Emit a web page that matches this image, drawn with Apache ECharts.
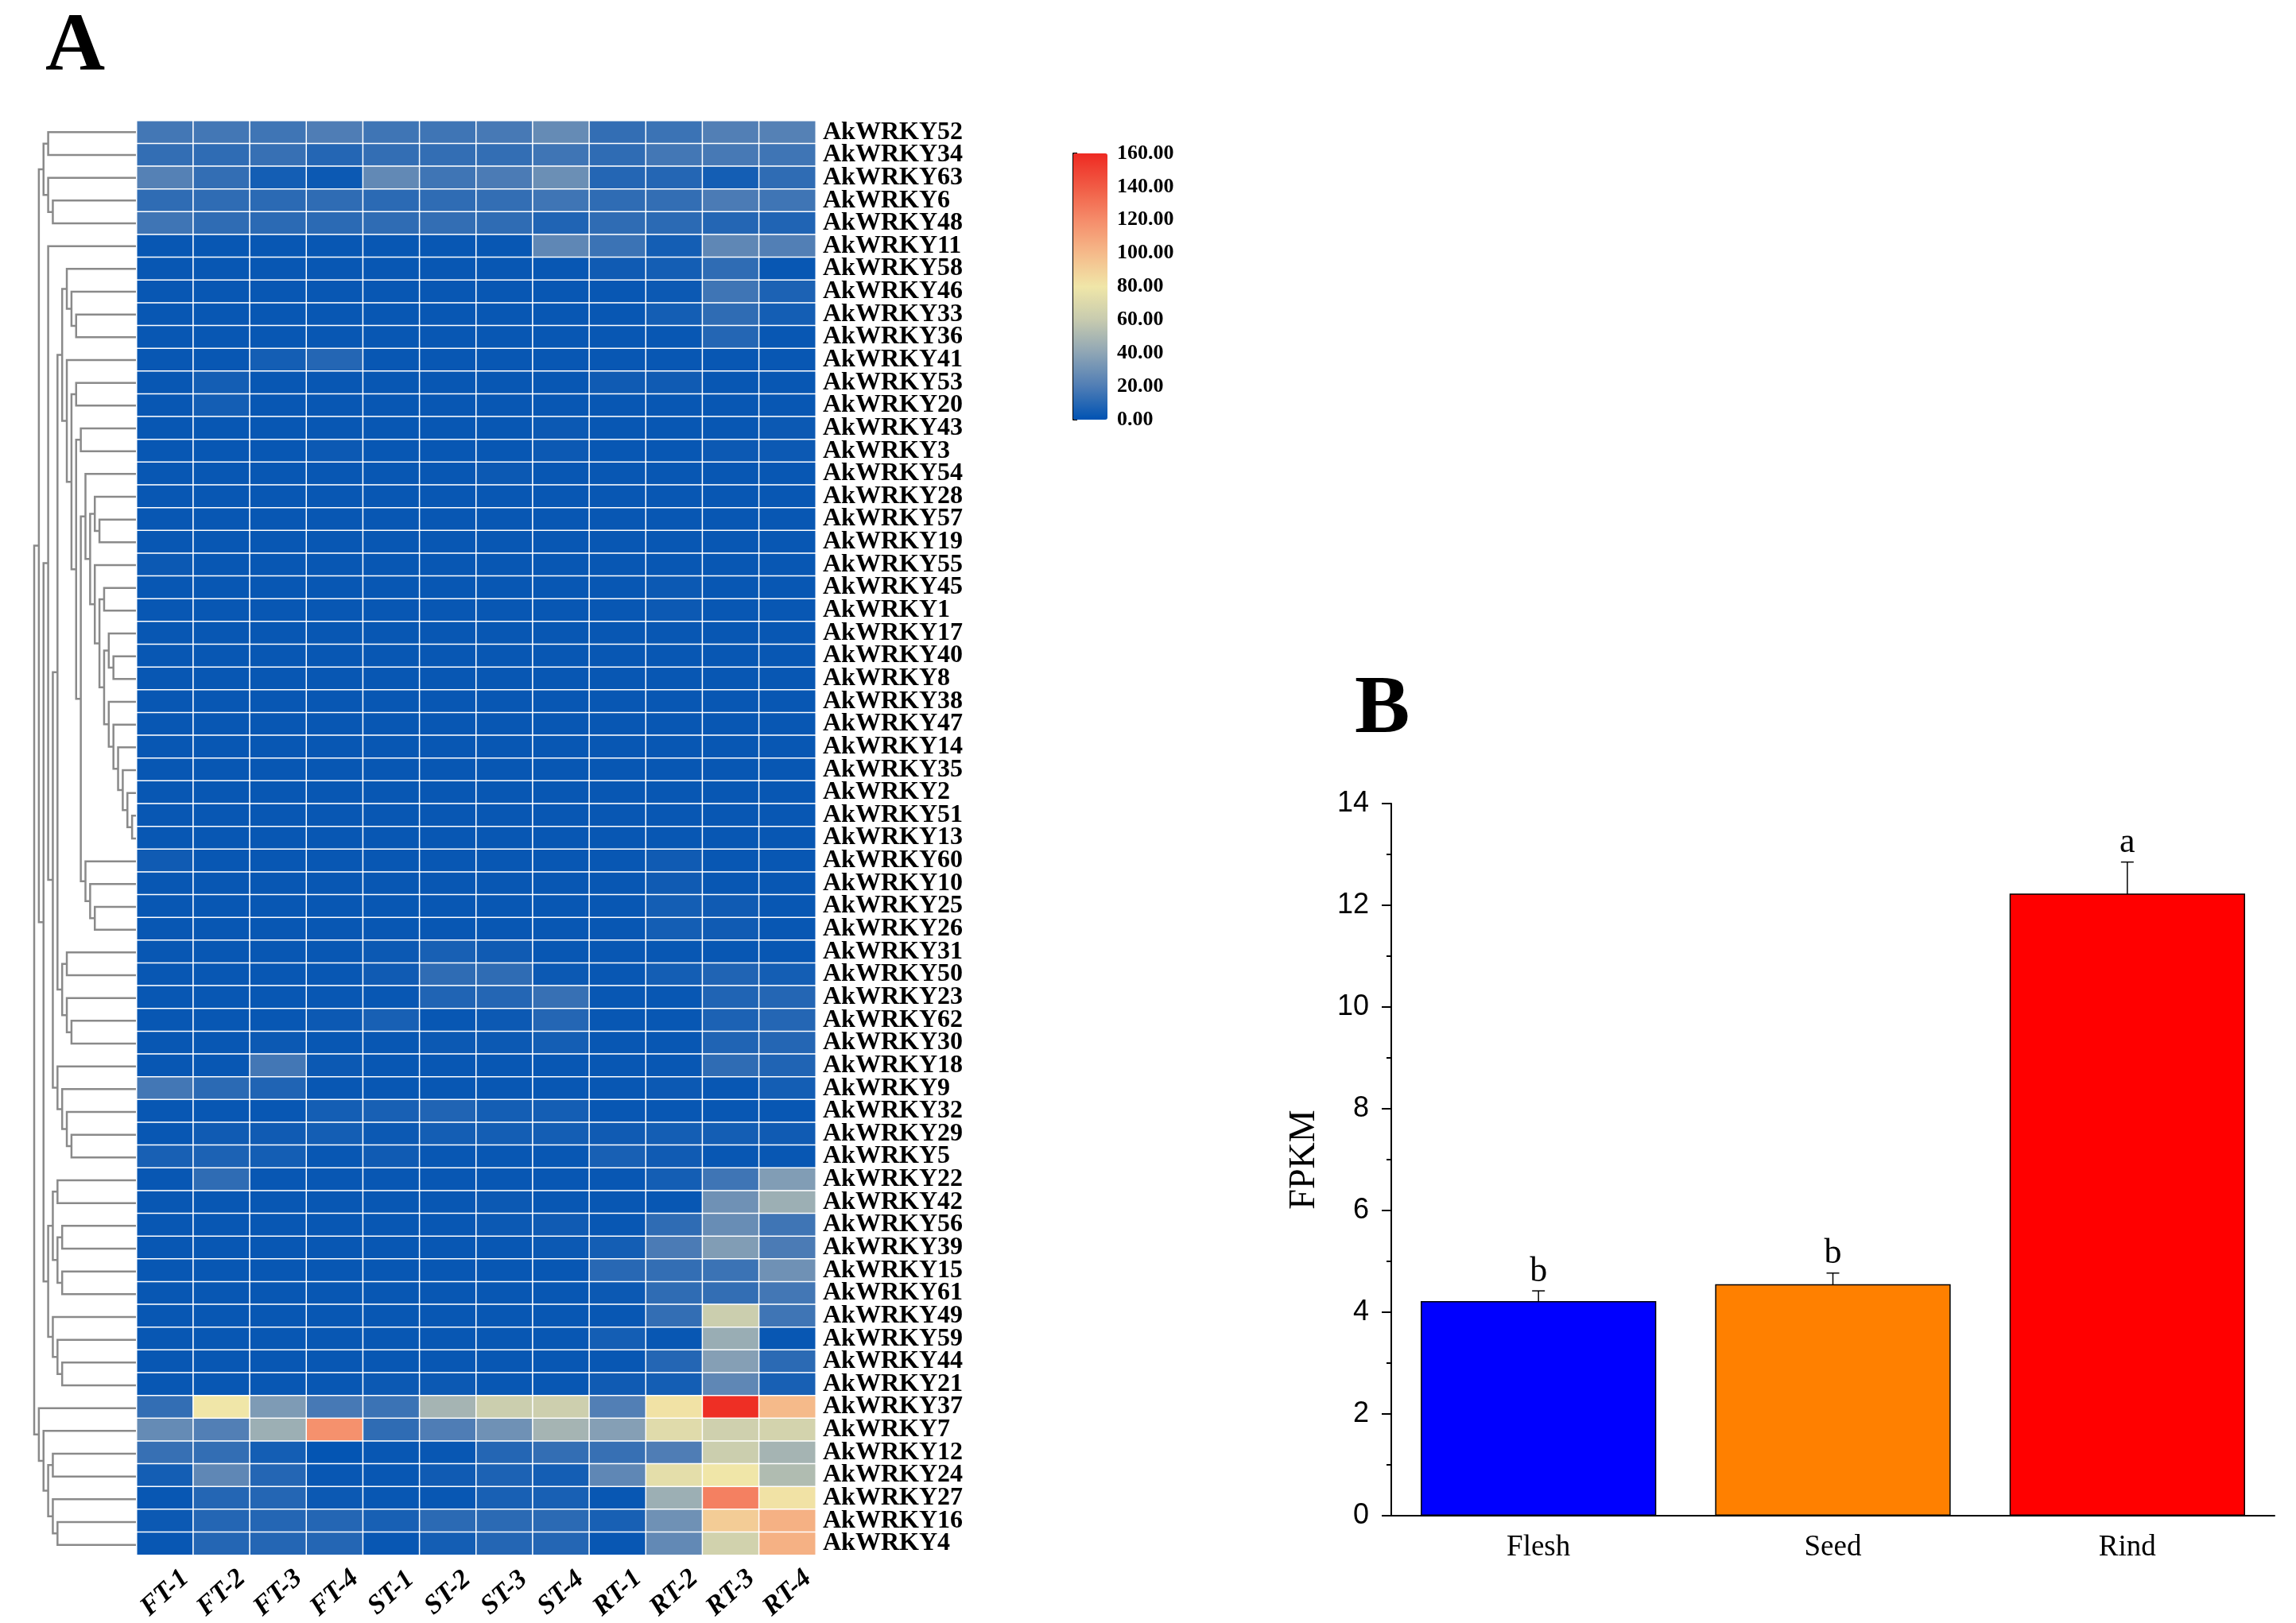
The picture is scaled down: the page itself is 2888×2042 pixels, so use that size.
<!DOCTYPE html>
<html>
<head>
<meta charset="utf-8">
<script src="https://cdn.jsdelivr.net/npm/echarts@6.0.0/dist/echarts.min.js"></script>
<style>
html, body { margin: 0; padding: 0; background: #fff; }
#main { width: 2888px; height: 2042px; }
</style>
</head>
<body>
<div id="main"></div>
<script>
// 样本（热图列）
var samples = ['FT-1', 'FT-2', 'FT-3', 'FT-4', 'ST-1', 'ST-2', 'ST-3', 'ST-4', 'RT-1', 'RT-2', 'RT-3', 'RT-4'];
// 基因（热图行，自上而下）
var genes = ['AkWRKY52', 'AkWRKY34', 'AkWRKY63', 'AkWRKY6', 'AkWRKY48', 'AkWRKY11', 'AkWRKY58', 'AkWRKY46',
    'AkWRKY33', 'AkWRKY36', 'AkWRKY41', 'AkWRKY53', 'AkWRKY20', 'AkWRKY43', 'AkWRKY3', 'AkWRKY54',
    'AkWRKY28', 'AkWRKY57', 'AkWRKY19', 'AkWRKY55', 'AkWRKY45', 'AkWRKY1', 'AkWRKY17', 'AkWRKY40',
    'AkWRKY8', 'AkWRKY38', 'AkWRKY47', 'AkWRKY14', 'AkWRKY35', 'AkWRKY2', 'AkWRKY51', 'AkWRKY13',
    'AkWRKY60', 'AkWRKY10', 'AkWRKY25', 'AkWRKY26', 'AkWRKY31', 'AkWRKY50', 'AkWRKY23', 'AkWRKY62',
    'AkWRKY30', 'AkWRKY18', 'AkWRKY9', 'AkWRKY32', 'AkWRKY29', 'AkWRKY5', 'AkWRKY22', 'AkWRKY42',
    'AkWRKY56', 'AkWRKY39', 'AkWRKY15', 'AkWRKY61', 'AkWRKY49', 'AkWRKY59', 'AkWRKY44', 'AkWRKY21',
    'AkWRKY37', 'AkWRKY7', 'AkWRKY12', 'AkWRKY24', 'AkWRKY27', 'AkWRKY16', 'AkWRKY4'];
// FPKM 表达量，每行对应一个基因
var expr = [
    [17, 17, 16, 20, 16, 16, 18, 27, 13, 15, 21, 22],
    [13, 12, 14, 9, 13, 13, 13, 16, 12, 17, 18, 16],
    [22, 13, 5, 3, 26, 16, 19, 29, 9, 9, 5, 12],
    [12, 12, 11, 12, 11, 12, 13, 16, 12, 13, 19, 16],
    [16, 12, 11, 11, 12, 13, 12, 8, 12, 11, 9, 8],
    [2, 2, 2, 2, 2, 2, 2, 25, 15, 5, 25, 21],
    [2, 2, 2, 2, 2, 2, 2, 2, 4, 5, 12, 2],
    [2, 2, 2, 2, 2, 2, 2, 2, 2, 3, 16, 7],
    [2, 2, 2, 2, 2, 2, 2, 2, 2, 5, 12, 5],
    [2, 2, 2, 2, 2, 2, 2, 2, 2, 2, 9, 2],
    [2, 2, 5, 9, 2, 2, 2, 2, 2, 2, 2, 2],
    [2, 5, 2, 2, 2, 2, 2, 2, 4, 4, 2, 2],
    [2, 5, 2, 2, 2, 2, 2, 2, 2, 2, 2, 2],
    [2, 2, 2, 2, 2, 2, 2, 3, 2, 2, 2, 3],
    [2, 2, 2, 3, 2, 2, 2, 3, 2, 2, 3, 3],
    [2, 2, 2, 2, 2, 2, 3, 2, 2, 2, 2, 2],
    [2, 2, 2, 2, 2, 2, 2, 2, 2, 2, 2, 2],
    [2, 2, 2, 2, 2, 2, 2, 2, 2, 2, 2, 2],
    [2, 2, 2, 2, 2, 2, 2, 2, 2, 2, 2, 2],
    [3, 2, 2, 2, 2, 2, 2, 2, 2, 2, 2, 2],
    [2, 2, 2, 2, 2, 2, 2, 2, 2, 3, 2, 2],
    [2, 2, 2, 2, 2, 2, 2, 2, 2, 3, 2, 2],
    [2, 2, 2, 2, 2, 2, 2, 2, 2, 2, 2, 2],
    [2, 2, 2, 2, 2, 2, 2, 2, 2, 2, 2, 2],
    [2, 2, 2, 2, 2, 2, 2, 2, 2, 2, 2, 2],
    [2, 2, 2, 2, 2, 2, 2, 2, 2, 2, 2, 2],
    [2, 2, 2, 2, 2, 2, 2, 2, 2, 2, 2, 2],
    [2, 2, 2, 2, 2, 2, 2, 2, 2, 2, 2, 2],
    [2, 2, 2, 2, 2, 2, 2, 2, 2, 2, 2, 2],
    [2, 2, 2, 2, 2, 2, 2, 2, 2, 2, 2, 2],
    [2, 2, 2, 2, 2, 2, 2, 2, 2, 2, 2, 2],
    [2, 2, 2, 2, 2, 2, 2, 2, 2, 2, 2, 2],
    [4, 2, 2, 2, 2, 2, 2, 2, 2, 4, 2, 2],
    [2, 2, 2, 2, 2, 2, 2, 2, 2, 4, 2, 2],
    [2, 2, 2, 2, 2, 2, 2, 2, 2, 5, 4, 2],
    [2, 2, 2, 2, 2, 2, 2, 2, 2, 5, 4, 2],
    [2, 2, 2, 2, 3, 6, 4, 2, 2, 2, 2, 2],
    [2, 2, 2, 2, 4, 12, 12, 3, 2, 5, 8, 5],
    [2, 2, 2, 2, 2, 8, 9, 14, 2, 2, 8, 9],
    [2, 2, 2, 3, 6, 2, 3, 9, 2, 2, 7, 9],
    [2, 2, 3, 2, 2, 3, 3, 5, 2, 2, 8, 9],
    [2, 2, 17, 3, 2, 2, 2, 2, 2, 2, 12, 8],
    [17, 11, 8, 2, 2, 2, 2, 2, 2, 3, 2, 5],
    [2, 2, 2, 5, 6, 8, 5, 5, 2, 2, 2, 2],
    [2, 4, 4, 5, 3, 5, 5, 5, 4, 5, 5, 4],
    [6, 7, 5, 2, 4, 2, 2, 2, 6, 4, 2, 2],
    [2, 12, 2, 2, 2, 2, 2, 2, 2, 5, 16, 36],
    [2, 2, 2, 2, 2, 2, 3, 2, 2, 2, 30, 45],
    [2, 2, 2, 2, 2, 2, 3, 4, 2, 12, 28, 16],
    [2, 2, 2, 2, 2, 2, 2, 3, 5, 19, 36, 19],
    [2, 2, 2, 2, 2, 2, 2, 2, 10, 13, 15, 30],
    [2, 2, 2, 2, 2, 2, 2, 2, 3, 12, 13, 17],
    [2, 2, 2, 2, 2, 2, 2, 2, 2, 13, 62, 16],
    [2, 2, 2, 2, 2, 2, 2, 2, 5, 2, 44, 2],
    [2, 2, 2, 2, 2, 2, 2, 2, 2, 9, 37, 11],
    [2, 2, 2, 2, 3, 3, 2, 2, 4, 5, 25, 6],
    [13, 80, 35, 18, 15, 48, 62, 63, 21, 82, 158, 100],
    [27, 21, 45, 118, 12, 20, 30, 48, 37, 72, 64, 66],
    [14, 13, 5, 1, 2, 2, 9, 13, 14, 20, 62, 48],
    [5, 25, 9, 2, 2, 4, 7, 5, 25, 74, 80, 52],
    [2, 9, 9, 3, 2, 2, 6, 6, 2, 45, 125, 82],
    [3, 9, 9, 9, 6, 11, 11, 11, 6, 30, 92, 104],
    [2, 9, 9, 9, 2, 5, 9, 9, 2, 26, 65, 104]
];

// 聚类树：N(合并高度, 子节点A, 子节点B)
function N(h, a, b) { return {h: h, c: [a, b]}; }
var topA = N(20, N(19, 'AkWRKY52', 'AkWRKY34'), N(19, 'AkWRKY63', N(18, 'AkWRKY6', 'AkWRKY48')));
var n30 = N(2, 'AkWRKY2', N(1, 'AkWRKY51', 'AkWRKY13'));
var n26 = N(6, 'AkWRKY38', N(5, 'AkWRKY47', N(4, 'AkWRKY14', N(3, 'AkWRKY35', n30))));
var n23 = N(6, 'AkWRKY17', N(5, 'AkWRKY40', 'AkWRKY8'));
var n21 = N(8, N(7, 'AkWRKY45', 'AkWRKY1'), N(7, n23, n26));
var n17 = N(10, N(9, 'AkWRKY28', N(8, 'AkWRKY57', 'AkWRKY19')), N(9, 'AkWRKY55', n21));
var nW = N(11, 'AkWRKY54', n17);
var nV2 = N(11, 'AkWRKY60', N(10, 'AkWRKY10', N(9, 'AkWRKY25', 'AkWRKY26')));
var nV = N(12, nW, nV2);
var nP = N(13, N(12, 'AkWRKY43', 'AkWRKY3'), nV);
var nG = N(15, 'AkWRKY41', N(14, N(13, 'AkWRKY53', 'AkWRKY20'), nP));
var nC = N(15, 'AkWRKY58', N(14, 'AkWRKY46', N(13, 'AkWRKY33', 'AkWRKY36')));
var nH = N(16, nC, nG);
var nE = N(16, N(15, 'AkWRKY31', 'AkWRKY50'), N(15, 'AkWRKY23', N(14, 'AkWRKY62', 'AkWRKY30')));
var nD = N(17, 'AkWRKY18', N(16, 'AkWRKY9', N(15, 'AkWRKY32', N(14, 'AkWRKY29', 'AkWRKY5'))));
var nR1 = N(19, 'AkWRKY11', N(18, N(17, nH, nE), nD));
var nR2a = N(18, N(17, 'AkWRKY22', 'AkWRKY42'), N(17, N(16, 'AkWRKY56', 'AkWRKY39'), N(16, 'AkWRKY15', 'AkWRKY61')));
var nR2b = N(18, 'AkWRKY49', N(17, 'AkWRKY59', N(16, 'AkWRKY44', 'AkWRKY21')));
var nBot = N(21, 'AkWRKY37', N(20, 'AkWRKY7', N(19, N(18, 'AkWRKY12', 'AkWRKY24'), N(18, 'AkWRKY27', N(17, 'AkWRKY16', 'AkWRKY4')))));
var tree = N(22, N(21, topA, N(20, nR1, N(19, nR2a, nR2b))), nBot);

// 图B：不同组织的表达量
var tissues = ['Flesh', 'Seed', 'Rind'];
var fpkm = [4.22, 4.55, 12.23];
var fpkmErr = [0.2, 0.22, 0.62];
var sigLetters = ['b', 'b', 'a'];

// 把聚类树拆成折线段
var treeLines = [];
function walk(node) {
    if (typeof node === 'string') {
        return {y: genes.indexOf(node), h: 0};
    }
    var a = walk(node.c[0]), b = walk(node.c[1]);
    treeLines.push({coords: [[a.h, a.y], [node.h, a.y], [node.h, b.y], [b.h, b.y]]});
    return {y: (a.y + b.y) / 2, h: node.h};
}
walk(tree);

var heatData = [];
expr.forEach(function (row, r) {
    row.forEach(function (v, c) {
        heatData.push([c, r, v]);
    });
});

var serif = 'Liberation Serif';
var barColors = ['#0000FF', '#FF8000', '#FF0000'];

var chart = echarts.init(document.getElementById('main'));
var option = {
    animation: false,
    backgroundColor: '#fff',
    title: [
        {text: 'A', left: 52, top: 4, textStyle: {fontSize: 104, fontWeight: 'bold', fontFamily: serif, color: '#000'}},
        {text: 'B', left: 1699, top: 837, textStyle: {fontSize: 104, fontWeight: 'bold', fontFamily: serif, color: '#000'}}
    ],
    grid: [
        {left: 43, top: 152, width: 129, height: 1806},
        {left: 172, top: 152, width: 854, height: 1806},
        {left: 1350, top: 193, width: 43, height: 335},
        {left: 1750, top: 1011, width: 1111, height: 896}
    ],
    xAxis: [
        {gridIndex: 0, type: 'value', min: 0, max: 22, inverse: true, show: false},
        {
            gridIndex: 1, type: 'category', data: samples, position: 'bottom',
            axisLine: {show: false}, axisTick: {show: false}, splitLine: {show: false},
            axisLabel: {
                rotate: 42, align: 'center', verticalAlign: 'middle', margin: 48, interval: 0,
                fontSize: 34, fontWeight: 'bold', fontStyle: 'italic', fontFamily: serif, color: '#000'
            }
        },
        {gridIndex: 2, type: 'value', show: false},
        {
            gridIndex: 3, type: 'category', data: tissues,
            axisLine: {lineStyle: {color: '#000', width: 2}},
            axisTick: {alignWithLabel: true, length: 14, lineStyle: {color: '#000', width: 2}},
            axisLabel: {margin: 22, fontSize: 37, fontFamily: serif, color: '#000'}
        },
        {
            gridIndex: 3, type: 'category', data: tissues, position: 'bottom',
            axisLine: {show: false},
            axisTick: {length: 7, lineStyle: {color: '#000', width: 2}},
            axisLabel: {show: false}
        }
    ],
    yAxis: [
        {gridIndex: 0, type: 'value', min: -0.5, max: genes.length - 0.5, inverse: true, show: false},
        {
            gridIndex: 1, type: 'category', data: genes, inverse: true, position: 'right',
            axisLine: {show: false}, axisTick: {show: false}, splitLine: {show: false},
            axisLabel: {margin: 9, interval: 0, fontSize: 32, fontWeight: 'bold', fontFamily: serif, color: '#000'}
        },
        {
            gridIndex: 2, type: 'value', min: 0, max: 160, interval: 20, position: 'right',
            axisLine: {show: true, lineStyle: {color: '#000', width: 2}},
            axisTick: {show: true, length: 5, lineStyle: {color: '#000', width: 2}},
            splitLine: {show: false},
            axisLabel: {
                margin: 12, fontSize: 26, fontWeight: 'bold', fontFamily: serif, color: '#000',
                formatter: function (v) { return v.toFixed(2); }
            }
        },
        {
            gridIndex: 3, type: 'value', min: 0, max: 14, interval: 2,
            name: 'FPKM', nameLocation: 'middle', nameRotate: 90, nameGap: 86,
            nameTextStyle: {fontSize: 46, fontFamily: serif, color: '#000'},
            axisLine: {show: true, lineStyle: {color: '#000', width: 2}},
            axisTick: {show: true, length: 12, lineStyle: {color: '#000', width: 2}},
            minorTick: {show: true, splitNumber: 2, length: 6, lineStyle: {color: '#000', width: 2}},
            splitLine: {show: false},
            axisLabel: {margin: 28, fontSize: 36, fontFamily: 'Liberation Sans', color: '#000'}
        }
    ],
    visualMap: {
        type: 'continuous', seriesIndex: 1, min: 0, max: 160,
        calculable: false, hoverLink: false, orient: 'vertical',
        left: 1350, top: 193, itemWidth: 43, itemHeight: 335, padding: 0,
        inRange: {color: ['#0053B3', '#4F7DB5', '#8EA5B5', '#C7CBAF', '#F0E6A8', '#F5BA8A', '#F58C6A', '#F15B45', '#EE2A22']}
    },
    series: [
        {
            type: 'lines', coordinateSystem: 'cartesian2d', xAxisIndex: 0, yAxisIndex: 0,
            polyline: true, silent: true,
            lineStyle: {color: '#8a8a8a', width: 2.5, opacity: 1},
            data: treeLines
        },
        {
            type: 'heatmap', xAxisIndex: 1, yAxisIndex: 1, data: heatData,
            itemStyle: {borderColor: '#fff', borderWidth: 1.5},
            emphasis: {disabled: true}
        },
        {
            type: 'bar', xAxisIndex: 3, yAxisIndex: 3, barWidth: '80%',
            data: fpkm.map(function (v, i) {
                return {value: v, itemStyle: {color: barColors[i], borderColor: '#000', borderWidth: 1.5}};
            })
        },
        {
            type: 'custom', xAxisIndex: 3, yAxisIndex: 3, silent: true,
            data: fpkm.map(function (v, i) { return [i, v, fpkmErr[i]]; }),
            renderItem: function (params, api) {
                var i = api.value(0), v = api.value(1), e = api.value(2);
                var top = api.coord([i, v + e]), bot = api.coord([i, v - e]);
                var cap = 8;
                var st = {stroke: '#000', lineWidth: 1.5};
                return {
                    type: 'group',
                    children: [
                        {type: 'line', shape: {x1: top[0], y1: top[1], x2: bot[0], y2: bot[1]}, style: st},
                        {type: 'line', shape: {x1: top[0] - cap, y1: top[1], x2: top[0] + cap, y2: top[1]}, style: st},
                        {type: 'line', shape: {x1: bot[0] - cap, y1: bot[1], x2: bot[0] + cap, y2: bot[1]}, style: st},
                        {
                            type: 'text',
                            style: {
                                text: sigLetters[params.dataIndex], x: top[0], y: top[1] - 2,
                                align: 'center', verticalAlign: 'bottom',
                                fontSize: 44, fontFamily: serif, fill: '#000'
                            }
                        }
                    ]
                };
            }
        }
    ]
};
chart.setOption(option);
</script>
</body>
</html>
